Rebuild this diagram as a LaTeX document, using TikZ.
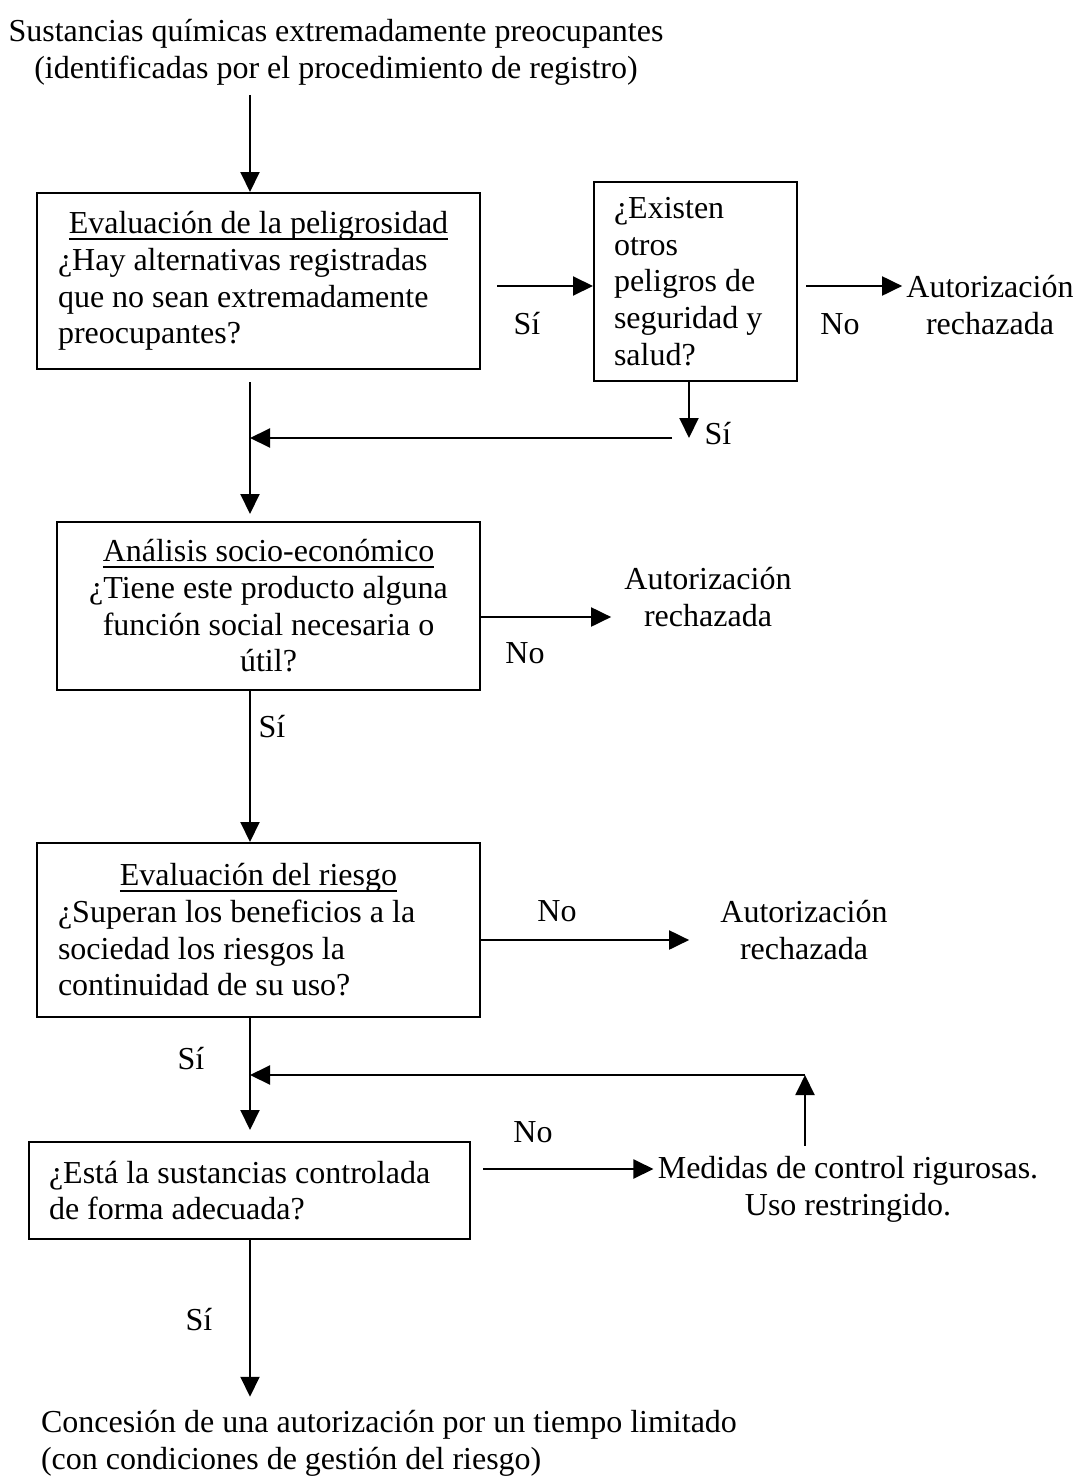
\documentclass[tikz,border=0pt]{standalone}
\usepackage{fontspec}
\setmainfont{Liberation Serif}
\usetikzlibrary{arrows.meta}
\tikzset{>={Triangle[length=20pt,width=19pt]}}
\tikzset{caja/.style={draw,inner ysep=0pt,inner xsep=21pt}}
\newcommand{\subr}[1]{\setbox0\hbox{#1}\rlap{\rule[-6pt]{\wd0}{2pt}}\box0}

\begin{document}
\begin{tikzpicture}[x=1pt,y=-1pt,line width=2pt,font=\fontsize{32}{36.7}\selectfont]
\useasboundingbox (0,0) rectangle (1076,1477);

\node[align=center] (sust) at (336,52) {Sustancias químicas extremadamente preocupantes\\(identificadas por el procedimiento de registro)};

\node[caja,text width=401pt,minimum height=176pt,align=flush left] (peligro) at (258.5,281)
  {\makebox[401pt]{\subr{Evaluación de la peligrosidad}}\\¿Hay alternativas registradas\\que no sean extremadamente\\preocupantes?};
\node[caja,inner xsep=20pt,text width=163pt,minimum height=199pt,align=flush left] (otros) at (695.5,281.5)
  {¿Existen\\otros\\peligros de\\seguridad y\\salud?};
\node[align=center] (rech1) at (990,305) {Autorización\\rechazada};

\node[caja,text width=381pt,minimum height=168pt,align=flush center] (socio) at (268.5,606)
  {\subr{Análisis socio-económico}\\¿Tiene este producto alguna\\función social necesaria o\\útil?};
\node[align=center] (rech2) at (708,597) {Autorización\\rechazada};

\node[caja,text width=401pt,minimum height=174pt,align=flush left] (riesgo) at (258.5,930)
  {\makebox[401pt]{\subr{Evaluación del riesgo}}\\¿Superan los beneficios a la\\sociedad los riesgos la\\continuidad de su uso?};
\node[align=center] (rech3) at (804,930) {Autorización\\rechazada};

\node[caja,inner xsep=20pt,text width=401pt,minimum height=97pt,align=flush left] (control) at (249.5,1190.5)
  {¿Está la sustancias controlada\\de forma adecuada?};
\node[align=center] (medidas) at (848,1189) {Medidas de control rigurosas.\\Uso restringido.};

\node[align=left,anchor=west] (concesion) at (36.7,1443) {Concesión de una autorización por un tiempo limitado\\(con condiciones de gestión del riesgo)};

% etiquetas
\node (si1) at (527,324) {Sí};
\node (no1) at (840,324) {No};
\node (si2) at (718,434) {Sí};
\node (no2) at (525,653) {No};
\node (si3) at (272,727) {Sí};
\node (no3) at (557,911) {No};
\node (si4) at (191,1059) {Sí};
\node (no4) at (533,1132) {No};
\node (si5) at (199,1320) {Sí};

\coordinate (a0) at (250,95);
\coordinate (a1) at (250,382);
\coordinate (p1) at (497,286);
\coordinate (p2) at (806,286);
\coordinate (b1) at (672,438);
\coordinate (b2) at (689,438);
\coordinate (c2) at (805,1075);

\draw[->] (a0) -- (a0 |- peligro.north);
\draw[->] (p1) -- (p1 -| otros.west);
\draw[->] (p2) -- (p2 -| rech1.west);
\draw[->] (b2 |- otros.south) -- (b2);
\draw[->] (b1) -- (b1 -| a1);
\draw[->] (a1) -- ([yshift=7pt]a1 |- socio.north);

\draw[->] ([yshift=-11pt]socio.east) -- ([xshift=-9pt,yshift=-11pt]socio.east -| rech2.west);
\draw[->] (a1 |- socio.south) -- (a1 |- riesgo.north);

\draw[->] ([yshift=-10pt]riesgo.east) -- ([xshift=-27pt,yshift=-10pt]riesgo.east -| rech3.west);
\draw[->] (a1 |- riesgo.south) -- ([yshift=11pt]a1 |- control.north);

\draw[->] ([xshift=12pt,yshift=21.5pt]control.east) -- ([yshift=21.5pt]control.east -| medidas.west);
\draw[->] ([yshift=6pt]c2 |- medidas.north) -- (c2);
\draw[->] (c2) -- (c2 -| a1);
\draw[->] (a1 |- control.south) -- ([yshift=9pt]a1 |- concesion.north);

\end{tikzpicture}
\end{document}
